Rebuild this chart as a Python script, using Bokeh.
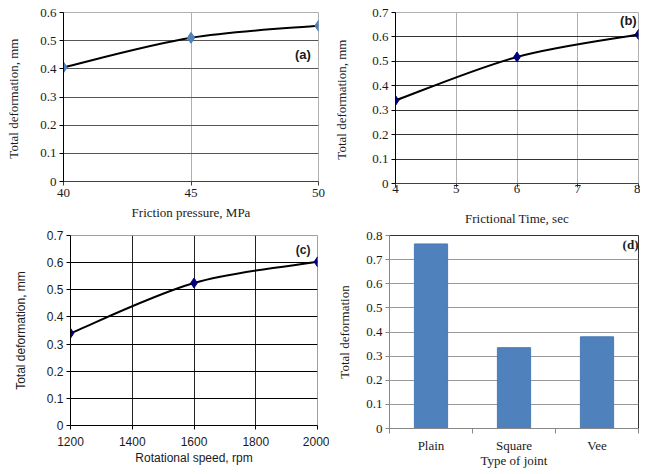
from bokeh.plotting import figure
from bokeh.models import Range1d, FixedTicker, Label
from bokeh.layouts import row, column
from bokeh.embed import file_html
from bokeh.resources import INLINE

# ---------------- data ----------------
pressure = [40, 45, 50]
pressure_def = [0.405, 0.51, 0.553]

ftime = [4, 6, 8]
ftime_def = [0.34, 0.518, 0.61]

speed = [1200, 1600, 2000]
speed_def = [0.34, 0.525, 0.603]

joints = ["Plain", "Square", "Vee"]
joint_def = [0.765, 0.335, 0.38]

SERIF = "Liberation Serif"
SANS = "Liberation Sans"


def smooth(p, xs, ys, **kw):
    """Excel-like smoothed line through the points, drawn as cubic Beziers."""
    n = len(xs)
    x0, y0, x1, y1, cx0, cy0, cx1, cy1 = [], [], [], [], [], [], [], []
    for i in range(n - 1):
        pa = (xs[max(i - 1, 0)], ys[max(i - 1, 0)])
        pb = (xs[i], ys[i])
        pc = (xs[i + 1], ys[i + 1])
        pd = (xs[min(i + 2, n - 1)], ys[min(i + 2, n - 1)])
        x0.append(pb[0]); y0.append(pb[1])
        x1.append(pc[0]); y1.append(pc[1])
        cx0.append(pb[0] + (pc[0] - pa[0]) / 6.0)
        cy0.append(pb[1] + (pc[1] - pa[1]) / 6.0)
        cx1.append(pc[0] - (pd[0] - pb[0]) / 6.0)
        cy1.append(pc[1] - (pd[1] - pb[1]) / 6.0)
    p.bezier(x0=x0, y0=y0, x1=x1, y1=y1, cx0=cx0, cy0=cy0, cx1=cx1, cy1=cy1, **kw)


def style(p, font, fsize, xticks, yticks, ygrid_ticks, xgrid_ticks, ygrid_color, xgrid_color,
          outline, xlabel, ylabel, xstand, ystand, xlab_stand, yaxis_color="black",
          xaxis_color="#404040"):
    p.toolbar_location = None
    p.outline_line_color = outline
    p.background_fill_color = "white"
    p.border_fill_color = "white"
    for ax in (p.xaxis[0], p.yaxis[0]):
        ax.major_label_text_font = font
        ax.axis_label_text_font = font
        ax.major_label_text_font_size = fsize
        ax.axis_label_text_font_size = fsize
        ax.axis_label_text_font_style = "normal"
        ax.major_label_text_color = "#1a1a1a"
        ax.axis_label_text_color = "#1a1a1a"
        ax.major_tick_in = 0
        ax.major_tick_out = 4
        ax.minor_tick_line_color = None
    p.xaxis[0].ticker = FixedTicker(ticks=xticks)
    p.yaxis[0].ticker = FixedTicker(ticks=yticks)
    p.xaxis[0].axis_label = xlabel
    p.yaxis[0].axis_label = ylabel
    p.xaxis[0].major_label_standoff = xstand
    p.yaxis[0].major_label_standoff = 3
    p.xaxis[0].axis_label_standoff = xlab_stand
    p.yaxis[0].axis_label_standoff = ystand
    p.yaxis[0].axis_line_color = yaxis_color
    p.yaxis[0].major_tick_line_color = yaxis_color
    p.xaxis[0].axis_line_color = xaxis_color
    p.xaxis[0].major_tick_line_color = xaxis_color
    p.ygrid[0].ticker = FixedTicker(ticks=ygrid_ticks)
    p.xgrid[0].ticker = FixedTicker(ticks=xgrid_ticks)
    p.ygrid[0].grid_line_color = ygrid_color
    p.xgrid[0].grid_line_color = xgrid_color


# ---------------- (a) ----------------
pa = figure(output_backend="svg", toolbar_location=None,
            frame_width=255, frame_height=169,
            min_border_left=63, min_border_right=11, min_border_top=11, min_border_bottom=48,
            x_range=Range1d(40, 50), y_range=Range1d(0, 0.6))
style(pa, SERIF, "13px", pressure, [0, 0.1, 0.2, 0.3, 0.4, 0.5, 0.6],
      [0.1, 0.2, 0.3, 0.4, 0.5], [45], "#555555", "#b0b0b0", "#b0b0b0",
      "Friction pressure, MPa", "Total deformation,  mm", 3, 16, 5)
smooth(pa, pressure, pressure_def, line_color="black", line_width=2)
pa.scatter(pressure, pressure_def, marker="diamond", size=11, color="#4F81BD")
pa.add_layout(Label(x=49.7, y=0.45, text="(a)", text_font=SANS, text_font_style="bold",
                    text_font_size="13px", text_align="right", text_baseline="middle",
                    text_color="#1a1a1a"))

# ---------------- (b) ----------------
pb = figure(output_backend="svg", toolbar_location=None,
            frame_width=243, frame_height=171,
            min_border_left=66, min_border_right=2, min_border_top=12, min_border_bottom=45,
            x_range=Range1d(4, 8), y_range=Range1d(0, 0.7))
style(pb, SERIF, "13px", [4, 5, 6, 7, 8], [0, 0.1, 0.2, 0.3, 0.4, 0.5, 0.6, 0.7],
      [0.1, 0.2, 0.3, 0.4, 0.5, 0.6, 0.7], [5, 6, 7], "#333333", "#b0b0b0", "#b0b0b0",
      "Frictional Time, sec", "Total deformation,  mm", -3, 20, 15)
smooth(pb, ftime, ftime_def, line_color="black", line_width=2)
pb.scatter(ftime, ftime_def, marker="diamond", size=10, color="#00007a")
pb.add_layout(Label(x=7.97, y=0.667, text="(b)", text_font=SANS, text_font_style="bold",
                    text_font_size="13px", text_align="right", text_baseline="middle",
                    text_color="#1a1a1a"))

# ---------------- (c) ----------------
pc = figure(output_backend="svg", toolbar_location=None,
            frame_width=247, frame_height=190,
            min_border_left=70, min_border_right=12, min_border_top=7, min_border_bottom=41,
            x_range=Range1d(1200, 2000), y_range=Range1d(0, 0.7))
style(pc, SANS, "12px", [1200, 1400, 1600, 1800, 2000], [0, 0.1, 0.2, 0.3, 0.4, 0.5, 0.6, 0.7],
      [0.1, 0.2, 0.3, 0.4, 0.5, 0.6], [1400, 1600, 1800, 2000], "black", "#222222", "#a0a0a0",
      "Rotational speed, rpm", "Total deformation, mm", 7, 16, 2, xaxis_color="black")
smooth(pc, speed, speed_def, line_color="black", line_width=2)
pc.scatter(speed, speed_def, marker="diamond", size=10, color="#00007a")
pc.add_layout(Label(x=1977, y=0.647, text="(c)", text_font=SANS, text_font_style="bold",
                    text_font_size="12px", text_align="right", text_baseline="middle",
                    text_color="#1a1a1a"))

# ---------------- (d) ----------------
pos = [i + 0.5 for i in range(len(joints))]
pd_ = figure(output_backend="svg", toolbar_location=None,
             frame_width=249, frame_height=193,
             min_border_left=60, min_border_right=2, min_border_top=7, min_border_bottom=38,
             x_range=Range1d(0, len(joints)), y_range=Range1d(0, 0.8))
style(pd_, SERIF, "13px", pos, [0, 0.1, 0.2, 0.3, 0.4, 0.5, 0.6, 0.7, 0.8],
      [0.1, 0.2, 0.3, 0.4, 0.5, 0.6, 0.7], [], "#999999", None, "#333333",
      "Type of joint", "Total deformation", 4, 11, -3,
      yaxis_color="#888888", xaxis_color="#888888")
pd_.xaxis[0].ticker = FixedTicker(ticks=pos, minor_ticks=list(range(len(joints) + 1)))
pd_.xaxis[0].major_tick_out = 0
pd_.xaxis[0].minor_tick_out = 5
pd_.xaxis[0].minor_tick_in = 0
pd_.xaxis[0].minor_tick_line_color = "#888888"
pd_.xaxis[0].major_label_overrides = {p: j for p, j in zip(pos, joints)}
pd_.vbar(x=pos, top=joint_def, width=0.4, bottom=0, fill_color="#4F81BD",
         line_color="#4a7ab5")
pd_.add_layout(Label(x=3.0, y=0.763, text="(d)", text_font=SERIF, text_font_style="bold",
                     text_font_size="13px", text_align="right", text_baseline="middle",
                     text_color="#1a1a1a"))

layout = column(row(pa, pb), row(pc, pd_))
open("out.html", "w").write(file_html(layout, INLINE))
